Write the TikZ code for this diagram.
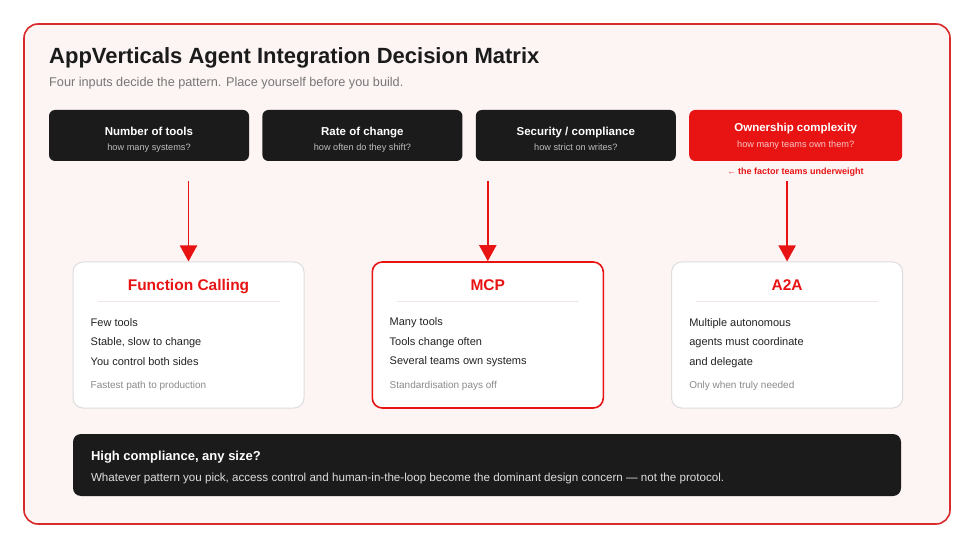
\documentclass[tikz,border=0pt]{standalone}
\usepackage{fontspec}
\setmainfont{Liberation Sans}
\usetikzlibrary{arrows.meta, positioning}

\definecolor{ink}{HTML}{1B1B1B}
\definecolor{hotred}{HTML}{E81414}
\definecolor{framered}{HTML}{D92B2B}
\definecolor{framefill}{HTML}{FDF4F4}
\definecolor{cardline}{HTML}{DDDDDD}
\definecolor{sepline}{HTML}{F0E4E4}
\definecolor{itemtext}{HTML}{222222}
\definecolor{footgray}{HTML}{8A8A8A}
\definecolor{subgray}{HTML}{777777}
\definecolor{insub}{HTML}{BDBDBD}
\definecolor{hotsub}{HTML}{F9C4C4}
\definecolor{bodylight}{HTML}{DDDDDD}

\begin{document}
\begin{tikzpicture}[
        x=1pt, y=-1pt,
        font=\fontsize{12}{14}\selectfont,
        input/.style={fill=ink, rounded corners=6pt, minimum width=200pt, minimum height=51pt, inner sep=0pt},
        inputhot/.style={input, fill=hotred, minimum width=213pt},
        intitle/.style={anchor=base, inner sep=0pt, text=white, font=\bfseries\fontsize{11.5}{14}\selectfont},
        insubtxt/.style={anchor=base, inner sep=0pt, text=insub, font=\fontsize{9.2}{11}\selectfont},
        result/.style={draw=cardline, line width=1pt, fill=white, rounded corners=10pt,
            minimum width=231pt, minimum height=146pt},
        resulthot/.style={result, draw=hotred, line width=1.6pt},
        head/.style={anchor=base, text=hotred, inner sep=0pt, font=\bfseries\fontsize{15.5}{18}\selectfont},
        items/.style={anchor=north west, align=left, text=itemtext, inner sep=0pt,
            font=\fontsize{11}{19.5}\selectfont},
        foot/.style={anchor=base west, text=footgray, inner sep=0pt, font=\fontsize{10}{12}\selectfont},
        flow/.style={draw=hotred, line width=1.9pt, -{Triangle[width=17pt,length=16pt]}},
        node distance=13pt
        ]
        % canvas and frame
        \useasboundingbox[fill=white] (0,0) rectangle (975,548);
        \draw[draw=framered, line width=1.6pt, fill=framefill, rounded corners=14pt] (24,24) rectangle (950,524);
        % heading
        \node[anchor=base west, inner sep=0pt, text=ink, font=\bfseries\fontsize{22}{25}\selectfont]
            (title) at (49,63.3) {AppVerticals Agent Integration Decision Matrix};
        \node[anchor=base west, inner sep=0pt, text=subgray, font=\fontsize{12.7}{15}\selectfont]
            (subtitle) at (49,86.7) {Four inputs decide the pattern. Place yourself before you build.};
        % inputs
        \node[input] (ntools) at (149,135.5) {};
        \node[input, right=of ntools] (rate) {};
        \node[input, right=of rate] (secure) {};
        \node[inputhot, right=of secure] (own) {};
        \foreach \inp/\name/\question in {ntools/Number of tools/how many systems?,
                rate/Rate of change/how often do they shift?,
                secure/{Security / compliance}/how strict on writes?} {
            \node[intitle] (\inp-name) at (\inp.center) {\name};
            \node[insubtxt] (\inp-sub) at ([yshift=-15pt]\inp.center) {\question};
        }
        \node[intitle] (own-name) at ([yshift=4pt]own.center) {Ownership complexity};
        \node[insubtxt, text=hotsub] (own-sub) at ([yshift=-11.8pt]own.center) {how many teams own them?};
        \node[below=7pt of own, inner sep=0pt, text=hotred, font=\bfseries\fontsize{9}{11}\selectfont]
            (warn) {{\mdseries\fontsize{8}{9}\selectfont ←} the factor teams underweight};
        % patterns
        \node[result] (fc) at (188.5,335) {};
        \node[resulthot, right=67pt of fc] (mcp) {};
        \node[result, right=67pt of mcp] (a2a) {};
        \foreach \card/\name in {fc/Function Calling, mcp/MCP, a2a/A2A} {
            \node[head] (\card-head) at ([yshift=-29pt]\card.north) {\name};
            \draw[sepline, line width=1pt] ([xshift=25pt, yshift=-40pt]\card.north west)
                -- ([xshift=-25pt, yshift=-40pt]\card.north east);
        }
        \node[items] (fc-items) at ([xshift=18pt, yshift=-56.6pt]fc.north west)
            {Few tools\\Stable, slow to change\\You control both sides};
        \node[foot] (fc-foot) at ([xshift=18pt, yshift=-127.3pt]fc.north west) {Fastest path to production};
        \node[items] (mcp-items) at ([xshift=18pt, yshift=-56.6pt]mcp.north west)
            {Many tools\\Tools change often\\Several teams own systems};
        \node[foot] (mcp-foot) at ([xshift=18pt, yshift=-127.3pt]mcp.north west) {Standardisation pays off};
        \node[items] (a2a-items) at ([xshift=18pt, yshift=-56.6pt]a2a.north west)
            {Multiple autonomous\\agents must coordinate\\and delegate};
        \node[foot] (a2a-foot) at ([xshift=18pt, yshift=-127.3pt]a2a.north west) {Only when truly needed};
        % decision arrows
        \foreach \card in {fc, mcp, a2a} {
            \coordinate[above=80pt of \card.north] (\card-in);
            \draw[flow] (\card-in) -- (\card.north);
        }
        % compliance note
        \node[fill=ink, rounded corners=8pt, minimum width=828pt, minimum height=62pt] (hc) at (487,465) {};
        \node[anchor=base west, inner sep=0pt, text=white, font=\bfseries\fontsize{13}{15}\selectfont]
            (hc-head) at ([xshift=18pt, yshift=-26.5pt]hc.north west) {High compliance, any size?};
        \node[anchor=base west, inner sep=0pt, text=bodylight, font=\fontsize{11.6}{14}\selectfont]
            (hc-body) at ([xshift=18pt, yshift=-48pt]hc.north west)
            {Whatever pattern you pick, access control and human-in-the-loop become the dominant design concern — not the protocol.};
    \end{tikzpicture}
\end{document}
